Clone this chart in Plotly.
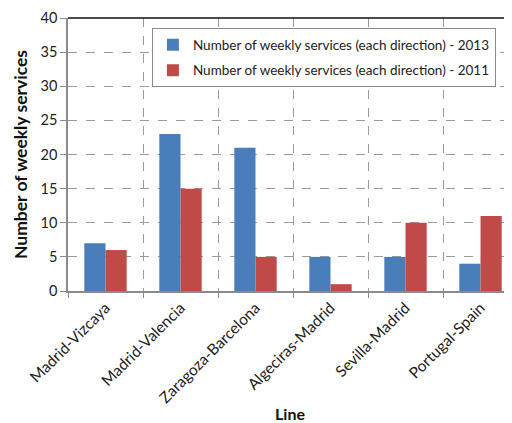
import plotly.graph_objects as go

categories = ["Madrid-Vizcaya", "Madrid-Valencia", "Zaragoza-Barcelona",
              "Algeciras-Madrid", "Sevilla-Madrid", "Portugal-Spain"]
services_2013 = [7, 23, 21, 5, 5, 4]
services_2011 = [6, 15, 5, 1, 10, 11]
name_2013 = "Number of weekly services (each direction) - 2013"
name_2011 = "Number of weekly services (each direction) - 2011"
y_ticks = [0, 5, 10, 15, 20, 25, 30, 35, 40]

FONT = "Lato"

fig = go.Figure()
fig.add_trace(go.Bar(x=categories, y=services_2013, name=name_2013, legendgroup="a",
                     marker=dict(color="#4a7ebb", line=dict(width=0))))
fig.add_trace(go.Bar(x=categories, y=services_2011, name=name_2011, legendgroup="b",
                     marker=dict(color="#be4b48", line=dict(width=0))))

# the page adds an 8px body margin, so the figure is 8px smaller and margins shifted
fig.update_layout(
    width=504, height=415,
    margin=dict(l=60, r=0, t=10, b=132, autoexpand=False),
    paper_bgcolor="white", plot_bgcolor="white",
    barmode="group", bargap=0.435, bargroupgap=0,
    font=dict(family=FONT, size=13, color="#222222"),
    legend=dict(x=0.189, y=0.962, xanchor="left", yanchor="top",
                bgcolor="white", bordercolor="#8a8a8a", borderwidth=1,
                font=dict(family=FONT, size=13.5, color="#222222"),
                itemwidth=30, traceorder="grouped", tracegroupgap=5),
    showlegend=True,
)
fig.update_xaxes(
    range=[-0.5, 5.42], tickson="boundaries", automargin=False,
    showgrid=True, gridcolor="#9a9a9a", griddash="dash", gridwidth=1,
    showline=True, linecolor="#8a8a8a", linewidth=1.5,
    ticks="outside", ticklen=5, tickcolor="#8a8a8a",
    tickangle=-45, tickfont=dict(family=FONT, size=15.5, color="#222222"),
    title=dict(text="<b>Line</b>", font=dict(family=FONT, size=16, color="#111111"), standoff=4),
)
fig.update_yaxes(
    range=[0, 40], tickvals=y_ticks, automargin=False, ticklabeloverflow="allow",
    showgrid=True, gridcolor="#9a9a9a", griddash="dash", gridwidth=1,
    showline=True, linecolor="#8a8a8a", linewidth=1.5,
    ticks="outside", ticklen=6, tickcolor="#8a8a8a",
    tickfont=dict(family=FONT, size=14.5, color="#222222"),
    zeroline=False,
    title=dict(text="<b>Number of weekly services</b>", font=dict(family=FONT, size=17.5, color="#111111"), standoff=8),
)
fig.add_shape(type="line", xref="paper", yref="paper", x0=0, x1=1, y0=1, y1=1,
              line=dict(color="#111111", width=1.5))

fig.write_html("out.html")
